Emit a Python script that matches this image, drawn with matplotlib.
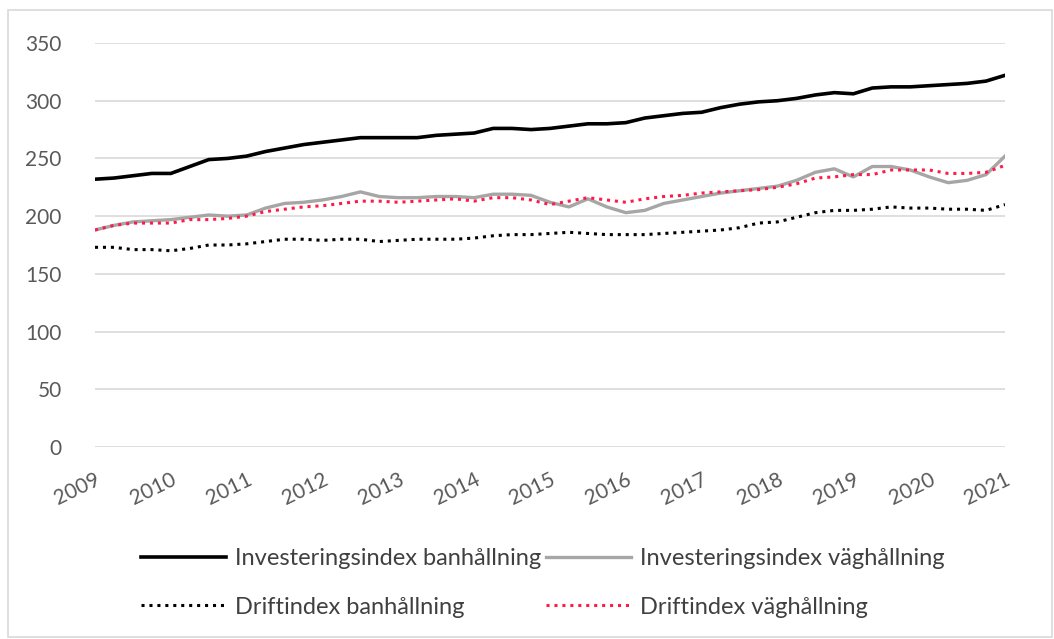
import numpy as np
import matplotlib.pyplot as plt
from matplotlib.patches import Rectangle

# quarterly values, 2009 Q1 .. 2021 Q1
years = [str(y) for y in range(2009, 2022)]

inv_ban = [232, 233, 235, 237, 237, 243, 249, 250, 252, 256, 259, 262, 264, 266, 268, 268,
           268, 268, 270, 271, 272, 276, 276, 275, 276, 278, 280, 280, 281, 285, 287, 289,
           290, 294, 297, 299, 300, 302, 305, 307, 306, 311, 312, 312, 313, 314, 315, 317, 322]

inv_vag = [188, 192, 195, 196, 197, 199, 201, 200, 201, 207, 211, 212, 214, 217, 221, 217,
           216, 216, 217, 217, 216, 219, 219, 218, 212, 208, 215, 208, 203, 205, 211, 214,
           217, 220, 222, 224, 226, 231, 238, 241, 234, 243, 243, 240, 234, 229, 231, 236, 252]

drift_ban = [173, 173, 171, 171, 170, 172, 175, 175, 176, 178, 180, 180, 179, 180, 180, 178,
             179, 180, 180, 180, 181, 183, 184, 184, 185, 186, 185, 184, 184, 184, 185, 186,
             187, 188, 190, 194, 195, 199, 203, 205, 205, 206, 208, 207, 207, 206, 206, 205, 210]

drift_vag = [188, 192, 194, 194, 194, 197, 197, 198, 200, 204, 206, 208, 209, 211, 213, 213,
             212, 213, 214, 215, 213, 216, 216, 214, 210, 213, 216, 214, 212, 215, 217, 218,
             220, 221, 222, 223, 225, 228, 233, 234, 236, 236, 240, 240, 240, 237, 237, 238, 244]

plt.rcParams['font.family'] = ['Lato', 'DejaVu Sans']

fig = plt.figure(figsize=(10.54, 6.39), dpi=100)
ax = fig.add_axes([95 / 1054, 1 - 447 / 639, 910 / 1054, 404 / 639])

x = np.arange(len(inv_ban))
l1, = ax.plot(x, inv_ban, color='black', lw=2.6, label='Investeringsindex banhållning')
l2, = ax.plot(x, inv_vag, color='#a6a6a6', lw=2.4, label='Investeringsindex väghållning')
l3, = ax.plot(x, drift_ban, color='black', lw=2.2, ls=(0, (1, 1.6)), label='Driftindex banhållning')
l4, = ax.plot(x, drift_vag, color='#ff1a4b', lw=2.2, ls=(0, (1, 1.6)), label='Driftindex väghållning')

ax.set_xlim(0, len(x) - 1)
ax.set_ylim(0, 350)
ax.set_yticks(range(0, 351, 50))
ax.set_xticks(x[::4])
ax.set_xticklabels(years, rotation=26, ha='right', rotation_mode='anchor')
ax.tick_params(axis='both', length=0, labelsize=15, colors='#595959')
ax.tick_params(axis='x', pad=16)
ax.tick_params(axis='y', pad=24)
ax.grid(axis='y', color='#d9d9d9', lw=1.2)
ax.set_axisbelow(True)
for s in ax.spines.values():
    s.set_visible(False)

fig.legend([l1, l3, l2, l4], [l.get_label() for l in (l1, l3, l2, l4)],
           loc='center', bbox_to_anchor=(0.515, 1 - 583 / 639), ncol=2, frameon=False,
           fontsize=17, handlelength=3.6, columnspacing=0.2, handletextpad=0.4,
           labelspacing=1.15, labelcolor='#404040')

fig.patches.append(Rectangle((8 / 1054, 2 / 639), 1044 / 1054, 627 / 639, transform=fig.transFigure,
                             fill=False, edgecolor='#d9d9d9', lw=1.2))

fig.savefig('out.png', dpi=100)
